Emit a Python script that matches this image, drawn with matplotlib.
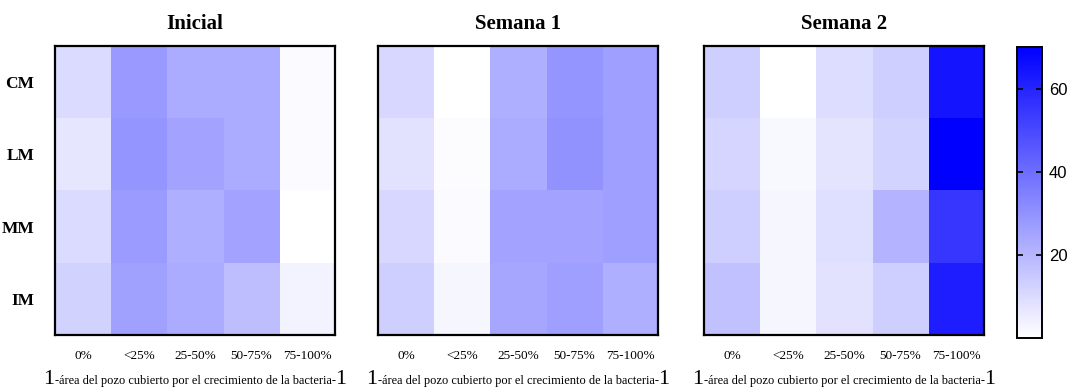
import matplotlib
matplotlib.use("Agg")
import matplotlib.pyplot as plt
import numpy as np
from matplotlib.colors import LinearSegmentedColormap
from matplotlib.offsetbox import TextArea, HPacker, AnchoredOffsetbox

# datos
categorias = ["0%", "<25%", "25-50%", "50-75%", "75-100%"]
filas = ["CM", "LM", "MM", "IM"]
titulos = ["Inicial", "Semana 1", "Semana 2"]

inicial = [[10, 28, 23, 23, 1.5],
           [7, 29, 25, 23, 1.5],
           [10, 27.5, 22, 25, 0],
           [12.5, 26, 23, 18, 3.5]]
semana1 = [[11, 0, 22, 29, 26.5],
           [8, 1, 23, 30, 26.5],
           [11, 1.5, 25, 25, 26.5],
           [13.5, 2.5, 24.5, 26.5, 22]]
semana2 = [[13.5, 0, 9.5, 13.5, 64.5],
           [11.5, 2, 7.5, 12, 70],
           [13.5, 2.5, 9, 21, 55],
           [17, 2.5, 8, 13.5, 62]]
datos = [inicial, semana1, semana2]

cmap = LinearSegmentedColormap.from_list("wb", ["#ffffff", "#0000ff"])
serif = "Liberation Serif"

fig = plt.figure(figsize=(10.69, 3.92), dpi=100)
lefts = [0.0515, 0.3536, 0.6586]
bottom, height, width = 0.1454, 0.737, 0.262

for i, (d, t) in enumerate(zip(datos, titulos)):
    ax = fig.add_axes([lefts[i], bottom, width, height])
    im = ax.imshow(np.array(d), cmap=cmap, vmin=0, vmax=70, aspect="auto")
    ax.set_title(t, fontsize=15, fontweight="bold", family=serif, pad=12)
    ax.set_xticks(range(len(categorias)))
    ax.set_xticklabels(categorias, family=serif, fontsize=9.5)
    ax.set_yticks(range(len(filas)))
    if i == 0:
        ax.set_yticklabels(filas, family=serif, fontsize=12.5, fontweight="bold")
        ax.tick_params(axis="y", pad=15)
    else:
        ax.set_yticklabels([])
    ax.tick_params(length=0)
    ax.tick_params(axis="x", pad=11)
    for s in ax.spines.values():
        s.set_linewidth(1.6)

    # etiqueta del eje x con los "1" grandes
    partes = [TextArea("1", textprops=dict(family=serif, fontsize=16)),
              TextArea("-área del pozo cubierto por el crecimiento de la bacteria-",
                       textprops=dict(family=serif, fontsize=8.9)),
              TextArea("1", textprops=dict(family=serif, fontsize=16))]
    caja = HPacker(children=partes, align="baseline", pad=0, sep=0)
    anc = AnchoredOffsetbox(loc="upper center", child=caja, pad=0, frameon=False,
                            bbox_to_anchor=(0.5, -0.12), bbox_transform=ax.transAxes,
                            borderpad=0)
    ax.add_artist(anc)

cax = fig.add_axes([0.9514, 0.138, 0.0234, 0.742])
cb = fig.colorbar(im, cax=cax, ticks=[20, 40, 60])
cb.outline.set_linewidth(1.4)
cax.yaxis.set_ticks_position("both")
cax.tick_params(direction="in", left=True, right=True, labelleft=False,
                labelright=True, length=4, width=1.2, labelsize=12, pad=5)
for lab in cax.get_yticklabels():
    lab.set_family("Liberation Sans")

fig.savefig("out.png", dpi=100)
